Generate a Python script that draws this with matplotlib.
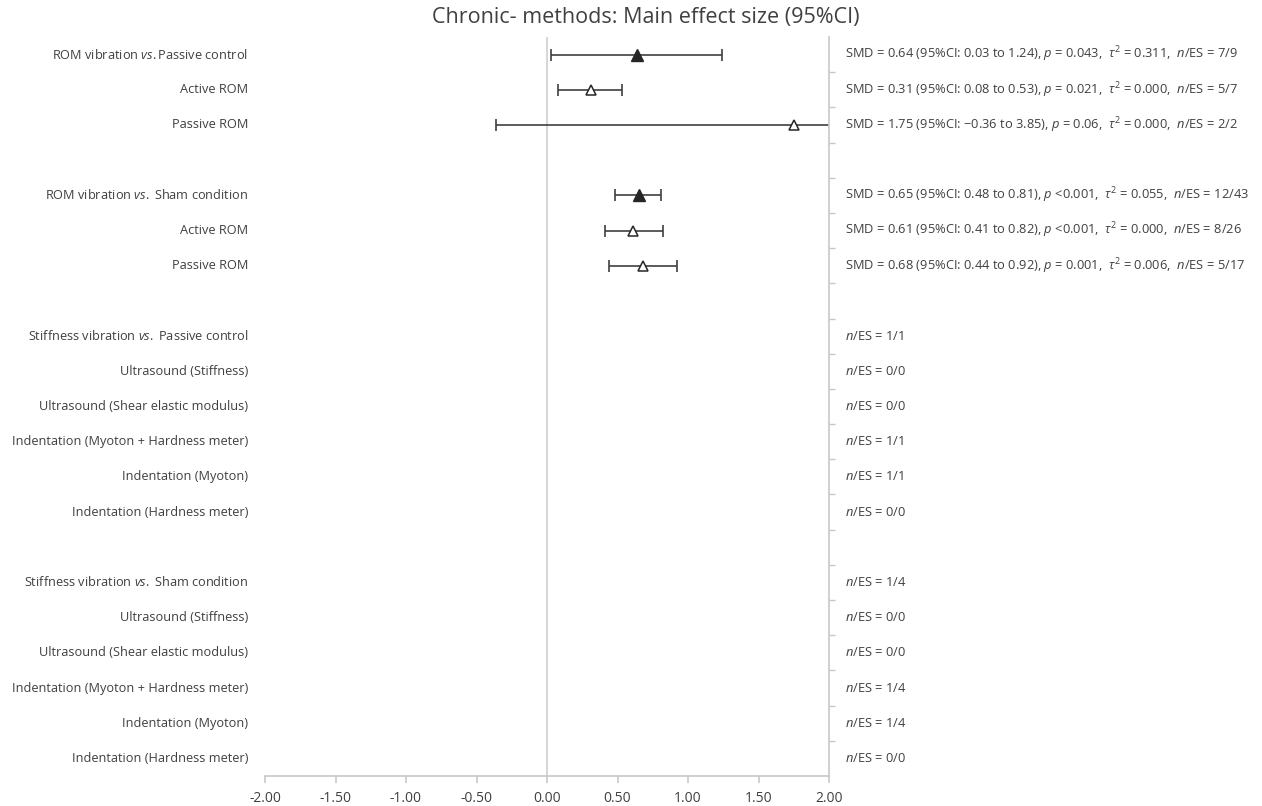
import numpy as np
import matplotlib.pyplot as plt
import matplotlib.transforms as mtransforms

plt.rcParams['font.family'] = ['Open Sans', 'DejaVu Sans']
plt.rcParams['mathtext.fontset'] = 'custom'
plt.rcParams['mathtext.rm'] = 'Open Sans'
plt.rcParams['mathtext.it'] = 'Open Sans:italic'

# row labels, top to bottom ('' = blank spacer row)
labels = [
    r'ROM vibration $vs.$Passive control', 'Active ROM', 'Passive ROM', '',
    r'ROM vibration $vs.$ Sham condition', 'Active ROM', 'Passive ROM', '',
    r'Stiffness vibration $vs.$ Passive control', 'Ultrasound (Stiffness)',
    'Ultrasound (Shear elastic modulus)', 'Indentation (Myoton + Hardness meter)',
    'Indentation (Myoton)', 'Indentation (Hardness meter)', '',
    r'Stiffness vibration $vs.$ Sham condition', 'Ultrasound (Stiffness)',
    'Ultrasound (Shear elastic modulus)', 'Indentation (Myoton + Hardness meter)',
    'Indentation (Myoton)', 'Indentation (Hardness meter)',
]
header_rows = [8, 15]

# effect sizes (rows with data only)
es_rows = [0, 1, 2, 4, 5, 6]
smd = [0.64, 0.31, 1.75, 0.65, 0.61, 0.68]
ci_lo = [0.03, 0.08, -0.36, 0.48, 0.41, 0.44]
ci_hi = [1.24, 0.53, 3.85, 0.81, 0.82, 0.92]
is_main = [True, False, False, True, False, False]

stats = [
    r'SMD = 0.64 (95%CI: 0.03 to 1.24), $p$ = 0.043,  $\tau^2$ = 0.311,  $n$/ES = 7/9',
    r'SMD = 0.31 (95%CI: 0.08 to 0.53), $p$ = 0.021,  $\tau^2$ = 0.000,  $n$/ES = 5/7',
    r'SMD = 1.75 (95%CI: −0.36 to 3.85), $p$ = 0.06,  $\tau^2$ = 0.000,  $n$/ES = 2/2',
    '',
    r'SMD = 0.65 (95%CI: 0.48 to 0.81), $p$ <0.001,  $\tau^2$ = 0.055,  $n$/ES = 12/43',
    r'SMD = 0.61 (95%CI: 0.41 to 0.82), $p$ <0.001,  $\tau^2$ = 0.000,  $n$/ES = 8/26',
    r'SMD = 0.68 (95%CI: 0.44 to 0.92), $p$ = 0.001,  $\tau^2$ = 0.006,  $n$/ES = 5/17',
    '',
    r'$n$/ES = 1/1', r'$n$/ES = 0/0', r'$n$/ES = 0/0', r'$n$/ES = 1/1', r'$n$/ES = 1/1', r'$n$/ES = 0/0',
    '',
    r'$n$/ES = 1/4', r'$n$/ES = 0/0', r'$n$/ES = 0/0', r'$n$/ES = 1/4', r'$n$/ES = 1/4', r'$n$/ES = 0/0',
]

xticks = [-2.0, -1.5, -1.0, -0.5, 0.0, 0.5, 1.0, 1.5, 2.0]

txt = '#404040'
grey = '#c8c8c8'

fig = plt.figure(figsize=(12.62, 8.06), dpi=100)
ax = fig.add_axes([265 / 1262, 1 - 776 / 806, 564 / 1262, (776 - 37) / 806])

n = len(labels)
ax.set_ylim(n - 0.5, -0.5)
ax.set_xlim(-2, 2)

ax.axvline(0, color='#d0d0d0', lw=1.2, zorder=1)

smd = np.array(smd)
lo_err = smd - np.array(ci_lo)
hi_err = np.array(ci_hi) - smd
ax.errorbar(smd, es_rows, xerr=[lo_err, hi_err], fmt='none', ecolor='#404040',
            elinewidth=1.2, capsize=4, capthick=1.2, zorder=2)
for x, y, m in zip(smd, es_rows, is_main):
    if m:
        ax.plot(x, y, marker='^', ms=9, color='#262626', mec='#262626', zorder=3)
    else:
        ax.plot(x, y, marker='^', ms=7, mfc='white', mec='#262626', mew=1.1, zorder=3)

for s in ['left', 'top']:
    ax.spines[s].set_visible(False)
for s in ['right', 'bottom']:
    ax.spines[s].set_color(grey)
    ax.spines[s].set_linewidth(1.2)

ax.set_xticks(xticks)
ax.set_xticklabels([f'{v:.2f}' for v in xticks])
ax.tick_params(axis='x', colors=grey, labelcolor=txt, labelsize=10, length=5, width=1.2, pad=6)
ax.yaxis.tick_right()
ax.set_yticks(np.arange(0.5, n - 1, 1.0))
ax.set_yticklabels([])
ax.tick_params(axis='y', colors=grey, length=4, width=1.0)

trans = mtransforms.blended_transform_factory(ax.transAxes, ax.transData)
for i, lab in enumerate(labels):
    if lab:
        ax.text(-0.03, i, lab, transform=trans, ha='right', va='center',
                fontsize=9.2 if i in header_rows else 9.2, color=txt)
for i, s in enumerate(stats):
    if s:
        ax.text(1.028, i, s, transform=trans, ha='left', va='center', fontsize=9.3, color=txt)

fig.text(646 / 1262, 1 - 18 / 806, 'Chronic- methods: Main effect size (95%CI)',
         ha='center', va='center', fontsize=15.5, color=txt)

fig.savefig('out.png', dpi=100)
